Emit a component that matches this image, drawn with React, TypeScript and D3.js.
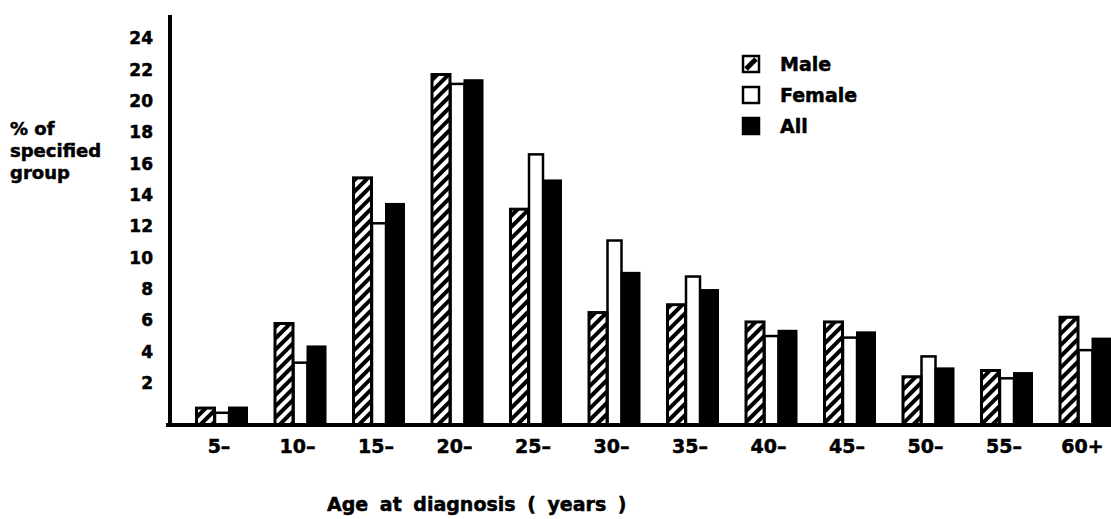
import React, { useEffect, useRef } from 'react';
import * as d3 from 'd3';

const categories = ['5–', '10–', '15–', '20–', '25–', '30–', '35–', '40–', '45–', '50–', '55–', '60+'];
const maleValues = [0.4, 5.8, 15.1, 21.7, 13.1, 6.5, 7.0, 5.9, 5.9, 2.4, 2.8, 6.2];
const femaleValues = [0.1, 3.3, 12.2, 21.1, 16.6, 11.1, 8.8, 5.0, 4.9, 3.7, 2.3, 4.1];
const allValues = [0.5, 4.4, 13.5, 21.4, 15.0, 9.1, 8.0, 5.4, 5.3, 3.0, 2.7, 4.9];
const yTicks = [2, 4, 6, 8, 10, 12, 14, 16, 18, 20, 22, 24];
const legendLabels = ['Male', 'Female', 'All'];

const FONT = '"DejaVu Sans", sans-serif';

const App: React.FC = () => {
  const svgRef = useRef<SVGSVGElement>(null);

  useEffect(() => {
    if (!svgRef.current) return;

    const width = 1111;
    const height = 519;
    const baseline = 425;
    const axisX = 170;

    d3.select(svgRef.current).selectAll('*').remove();

    const svg = d3.select(svgRef.current)
      .attr('width', width)
      .attr('height', height);

    // hatch for the male bars
    const defs = svg.append('defs');
    const pat = defs.append('pattern')
      .attr('id', 'hatch')
      .attr('patternUnits', 'userSpaceOnUse')
      .attr('width', 8)
      .attr('height', 8)
      .attr('patternTransform', 'rotate(45)');
    pat.append('rect').attr('width', 8).attr('height', 8).attr('fill', '#fff');
    pat.append('rect').attr('width', 4).attr('height', 8).attr('fill', '#000');

    const x = d3.scaleBand()
      .domain(categories)
      .range([182.75, 182.75 + 78.5 * categories.length]);

    // axis baseline sits a little below zero in the original
    const y = d3.scaleLinear()
      .domain([-0.68, 25.5])
      .range([baseline, 15]);

    const center = (i: number) => x(categories[i])! + x.bandwidth() / 2;

    const g = svg.append('g');

    // Female (white, outlined) first so neighbours cover its sides
    g.selectAll('rect.female')
      .data(femaleValues)
      .enter()
      .append('rect')
      .attr('class', 'female')
      .attr('x', (d, i) => center(i) - 7)
      .attr('width', 14)
      .attr('y', d => y(d))
      .attr('height', d => baseline - y(d))
      .attr('fill', '#fff')
      .attr('stroke', '#000')
      .attr('stroke-width', 2.5);

    g.selectAll('rect.male')
      .data(maleValues)
      .enter()
      .append('rect')
      .attr('class', 'male')
      .attr('x', (d, i) => center(i) - 25.5)
      .attr('width', 18)
      .attr('y', d => y(d))
      .attr('height', d => baseline - y(d))
      .attr('fill', 'url(#hatch)')
      .attr('stroke', '#000')
      .attr('stroke-width', 3);

    g.selectAll('rect.all')
      .data(allValues)
      .enter()
      .append('rect')
      .attr('class', 'all')
      .attr('x', (d, i) => center(i) + 6)
      .attr('width', 20)
      .attr('y', d => y(d))
      .attr('height', d => baseline - y(d))
      .attr('fill', '#000');

    // axes
    svg.append('line')
      .attr('x1', 166).attr('x2', width)
      .attr('y1', baseline).attr('y2', baseline)
      .attr('stroke', '#000').attr('stroke-width', 4);

    svg.append('line')
      .attr('x1', axisX).attr('x2', axisX)
      .attr('y1', 15).attr('y2', baseline)
      .attr('stroke', '#000').attr('stroke-width', 4);

    const boldText = (sel: any, size: number) => sel
      .attr('font-family', FONT)
      .attr('font-weight', 'bold')
      .attr('font-size', size)
      .attr('fill', '#000')
      .attr('stroke', '#000')
      .attr('stroke-width', 0.5);

    const yAxis = svg.append('g')
      .attr('transform', `translate(${axisX},0)`)
      .call(d3.axisLeft(y).tickValues(yTicks).tickSize(0).tickPadding(17));
    yAxis.select('.domain').remove();
    boldText(yAxis.selectAll('text'), 17);

    const xAxis = svg.append('g')
      .attr('transform', `translate(-3,${baseline})`)
      .call(d3.axisBottom(x).tickSize(0).tickPadding(15));
    xAxis.select('.domain').remove();
    boldText(xAxis.selectAll('text'), 19);

    // titles
    const yTitle = boldText(svg.append('text'), 18);
    ['% of', 'specified', 'group'].forEach((t, i) => {
      yTitle.append('tspan').attr('x', 10).attr('y', 135 + i * 22).text(t);
    });

    boldText(svg.append('text'), 19)
      .attr('x', 327)
      .attr('y', 511)
      .attr('word-spacing', 5)
      .text('Age at diagnosis ( years )');

    // legend
    const legend = svg.append('g').attr('transform', 'translate(742,55)');
    const item = legend.selectAll('g')
      .data(legendLabels)
      .enter()
      .append('g')
      .attr('transform', (d, i) => `translate(0,${i * 31})`);

    item.append('rect')
      .attr('x', 1).attr('y', 1)
      .attr('width', 16).attr('height', 16)
      .attr('fill', (d, i) => (i === 2 ? '#000' : '#fff'))
      .attr('stroke', '#000')
      .attr('stroke-width', 2.5);

    legend.append('line')
      .attr('x1', 4).attr('y1', 14)
      .attr('x2', 14).attr('y2', 4)
      .attr('stroke', '#000')
      .attr('stroke-width', 5);

    boldText(item.append('text'), 19)
      .attr('x', 38)
      .attr('y', 16)
      .text(d => d);
  }, []);

  return (
    <svg
      ref={svgRef}
      style={{ position: 'absolute', left: 0, top: 0, background: '#fff' }}
    ></svg>
  );
};

export default App;
